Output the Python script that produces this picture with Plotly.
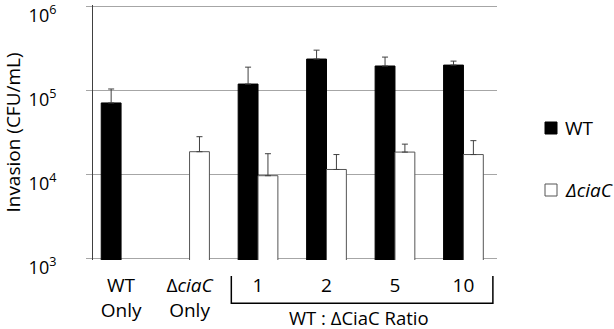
import plotly.graph_objects as go

categories = ["WT<br>Only", "Δ<i>ciaC</i><br>Only", "1", "2", "5", "10"]
wt_values = [71000, None, 119000, 236000, 195000, 200000]
wt_err = [33000, None, 70000, 65000, 54000, 23000]
cia_values = [None, 18700, 9700, 11500, 18500, 17300]
cia_err = [None, 9500, 8000, 5800, 4500, 8000]
series_names = ["WT", "<i>ΔciaC</i>"]
ytick_vals = [1e3, 1e4, 1e5, 1e6]
ytick_text = ["10<sup>3</sup>", "10<sup>4</sup>", "10<sup>5</sup>", "10<sup>6</sup>"]

FONT = "Open Sans"
W, H = 614, 329
ML, MR, MT, MB = 93, 117, 5, 69
PW, PH = W - ML - MR, H - MT - MB

def px(x):
    return (x - ML) / PW

def py(y):
    return (H - MB - y) / PH

fig = go.Figure()
fig.add_trace(go.Bar(
    x=categories, y=wt_values, name=series_names[0], showlegend=False,
    marker=dict(color="black", line=dict(color="black", width=1)),
    error_y=dict(type="data", array=wt_err, arrayminus=[0]*6, symmetric=False,
                 color="#404040", thickness=1, width=3),
))
fig.add_trace(go.Bar(
    x=categories, y=cia_values, name=series_names[1], showlegend=False,
    marker=dict(color="white", line=dict(color="#555555", width=1)),
    error_y=dict(type="data", array=cia_err, arrayminus=[0]*6, symmetric=False,
                 color="#404040", thickness=1, width=3),
))

fig.update_layout(
    width=W, height=H,
    margin=dict(l=ML, r=MR, t=MT, b=MB, autoexpand=False),
    paper_bgcolor="white", plot_bgcolor="white",
    barmode="group", bargap=0.42, bargroupgap=0,
    font=dict(family=FONT, size=16, color="black"),
    xaxis=dict(type="category", range=[-0.41, 5.49], showline=False, automargin=False,
               showgrid=False, ticks="", tickfont=dict(size=19), ticklabelstandoff=12),
    yaxis=dict(type="log", range=[2.985, 6.015], tickvals=ytick_vals, ticktext=ytick_text,
               automargin=False, ticklabeloverflow="allow",
               ticklabelposition="outside", ticklabelstandoff=26, ticklabelshift=9,
               showgrid=True, gridcolor="#a6a6a6", gridwidth=1,
               showline=True, linecolor="#404040", linewidth=1,
               ticks="outside", ticklen=6, tickcolor="#a6a6a6",
               tickfont=dict(size=18), zeroline=False,
               title=dict(text="Invasion (CFU/mL)", font=dict(size=19))),
)

# bracket under ratio groups
bx0, bx1 = 1.61, 5.43
fig.add_shape(type="path", xref="x", yref="paper",
              path=f"M {bx0} -0.063 L {bx0} -0.17 L {bx1} -0.17 L {bx1} -0.063",
              line=dict(color="black", width=1.5))
fig.add_annotation(x=3.47, y=-0.226, xref="x", yref="paper", text="WT : ΔCiaC Ratio",
                   showarrow=False, font=dict(size=18.5), yanchor="middle")

# legend (drawn manually for exact placement)
legend_items = [(series_names[0], "black", "black", 128),
                (series_names[1], "white", "#555555", 190)]
for name, fill, edge, cy in legend_items:
    fig.add_shape(type="rect", xref="paper", yref="paper",
                  x0=px(545), x1=px(557), y0=py(cy + 6), y1=py(cy - 6),
                  fillcolor=fill, line=dict(color=edge, width=1))
    fig.add_annotation(x=px(563), y=py(cy), xref="paper", yref="paper", text=name,
                       showarrow=False, xanchor="left", yanchor="middle",
                       font=dict(size=19))

fig.write_html("out.html", config={"displayModeBar": False},
               post_script="document.body.style.margin='0px';")
